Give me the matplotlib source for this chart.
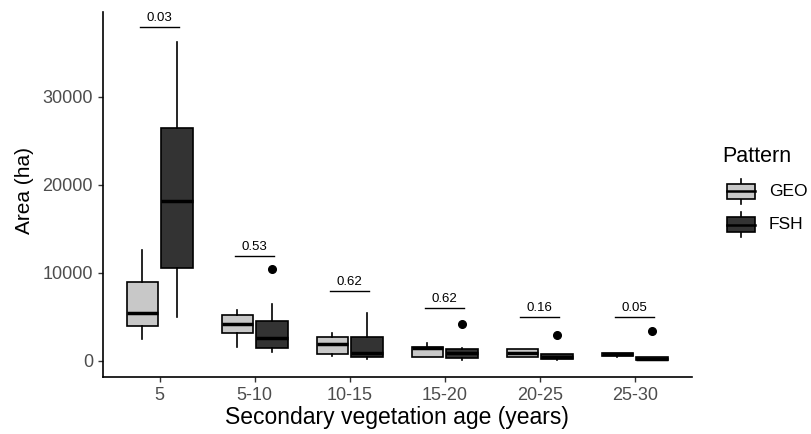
import matplotlib
matplotlib.use("Agg")
import matplotlib.pyplot as plt
from matplotlib.patches import Rectangle
from matplotlib.lines import Line2D

plt.rcParams['font.family'] = ['Liberation Sans', 'DejaVu Sans']

categories = ["5", "5-10", "10-15", "15-20", "20-25", "25-30"]
series = ["GEO", "FSH"]
colors = {"GEO": "#c8c8c8", "FSH": "#333333"}

geo_med = [5400, 4180, 1860, 1400, 900, 720]
geo_q1 = [3950, 3120, 730, 450, 450, 540]
geo_q3 = [9000, 5210, 2740, 1600, 1330, 900]
geo_lo = [2440, 1600, 540, 380, 450, 380]
geo_hi = [12610, 5780, 3120, 2050, 1330, 900]
geo_fl = [[], [], [], [], [], []]

fsh_med = [18110, 2550, 910, 840, 460, 160]
fsh_q1 = [10590, 1480, 380, 340, 190, 60]
fsh_q3 = [26430, 4560, 2660, 1330, 760, 380]
fsh_lo = [5010, 950, 230, 80, 80, 60]
fsh_hi = [36220, 6420, 5470, 1410, 760, 380]
fsh_fl = [[], [10410], [], [4150], [2960], [3380]]

p_labels = ["0.03", "0.53", "0.62", "0.62", "0.16", "0.05"]
p_y = [37970, 11960, 7970, 6040, 4940, 4940]

fig = plt.figure(figsize=(8.12, 4.34), dpi=100)
ax = fig.add_axes([102.7 / 812, 57 / 434, (691.7 - 102.7) / 812, (377 - 11.7) / 434])


def stats(med, q1, q3, lo, hi, fl):
    return [dict(med=m, q1=a, q3=b, whislo=l, whishi=h, fliers=f)
            for m, a, b, l, h, f in zip(med, q1, q3, lo, hi, fl)]


x = list(range(1, len(categories) + 1))
off = 0.183
w = 0.33
for name, st, sign in [("GEO", stats(geo_med, geo_q1, geo_q3, geo_lo, geo_hi, geo_fl), -1),
                       ("FSH", stats(fsh_med, fsh_q1, fsh_q3, fsh_lo, fsh_hi, fsh_fl), 1)]:
    ax.bxp(st, positions=[xi + sign * off for xi in x], widths=w, patch_artist=True,
           showcaps=False,
           boxprops=dict(facecolor=colors[name], edgecolor="black", linewidth=1.2),
           medianprops=dict(color="black", linewidth=2.5, solid_capstyle="butt"),
           whiskerprops=dict(color="black", linewidth=1.2),
           flierprops=dict(marker="o", markerfacecolor="black", markeredgecolor="black",
                           markersize=5.5),
           manage_ticks=False, zorder=3)

for xi, lab, yv in zip(x, p_labels, p_y):
    ax.plot([xi - 0.204, xi + 0.204], [yv, yv], color="black", lw=1.0)
    ax.annotate(lab, (xi, yv), xytext=(0, 2), textcoords="offset points",
                ha="center", va="bottom", fontsize=9.5, color="black")

ax.set_xlim(0.4, 6.6)
ax.set_ylim(-1854, 39700)
ax.set_xticks(x)
ax.set_xticklabels(categories)
ax.set_yticks([0, 10000, 20000, 30000])
ax.set_yticklabels(["0", "10000", "20000", "30000"])
ax.tick_params(axis="both", labelsize=13, labelcolor="#4d4d4d", color="#333333",
               length=3.5, width=1.0)
ax.tick_params(axis="x", pad=4)
for s in ["top", "right"]:
    ax.spines[s].set_visible(False)
for s in ["left", "bottom"]:
    ax.spines[s].set_linewidth(1.2)
    ax.spines[s].set_color("black")
ax.set_xlabel("Secondary vegetation age (years)", fontsize=16.5, labelpad=1)
ax.set_ylabel("Area (ha)", fontsize=15)
ax.yaxis.set_label_coords(-0.116, 0.51)

# legend drawn in pixel coordinates
lg = fig.add_axes([0, 0, 1, 1])
lg.set_xlim(0, 812)
lg.set_ylim(434, 0)
lg.axis("off")
lg.text(722, 157, "Pattern", fontsize=15.5, va="center", ha="left")
for name, cy, lab in [("GEO", 191, "GEO"), ("FSH", 224.5, "FSH")]:
    lg.add_line(Line2D([741, 741], [cy - 12.5, cy + 12.5], color="black", lw=1.2))
    lg.add_patch(Rectangle((727, cy - 7.5), 28, 15, facecolor=colors[name],
                           edgecolor="black", lw=1.2, zorder=3))
    lg.add_line(Line2D([727, 755], [cy, cy], color="black", lw=1.8, zorder=4))
    lg.text(769, cy, lab, fontsize=12.5, va="center", ha="left")

fig.savefig("out.png", dpi=100)
